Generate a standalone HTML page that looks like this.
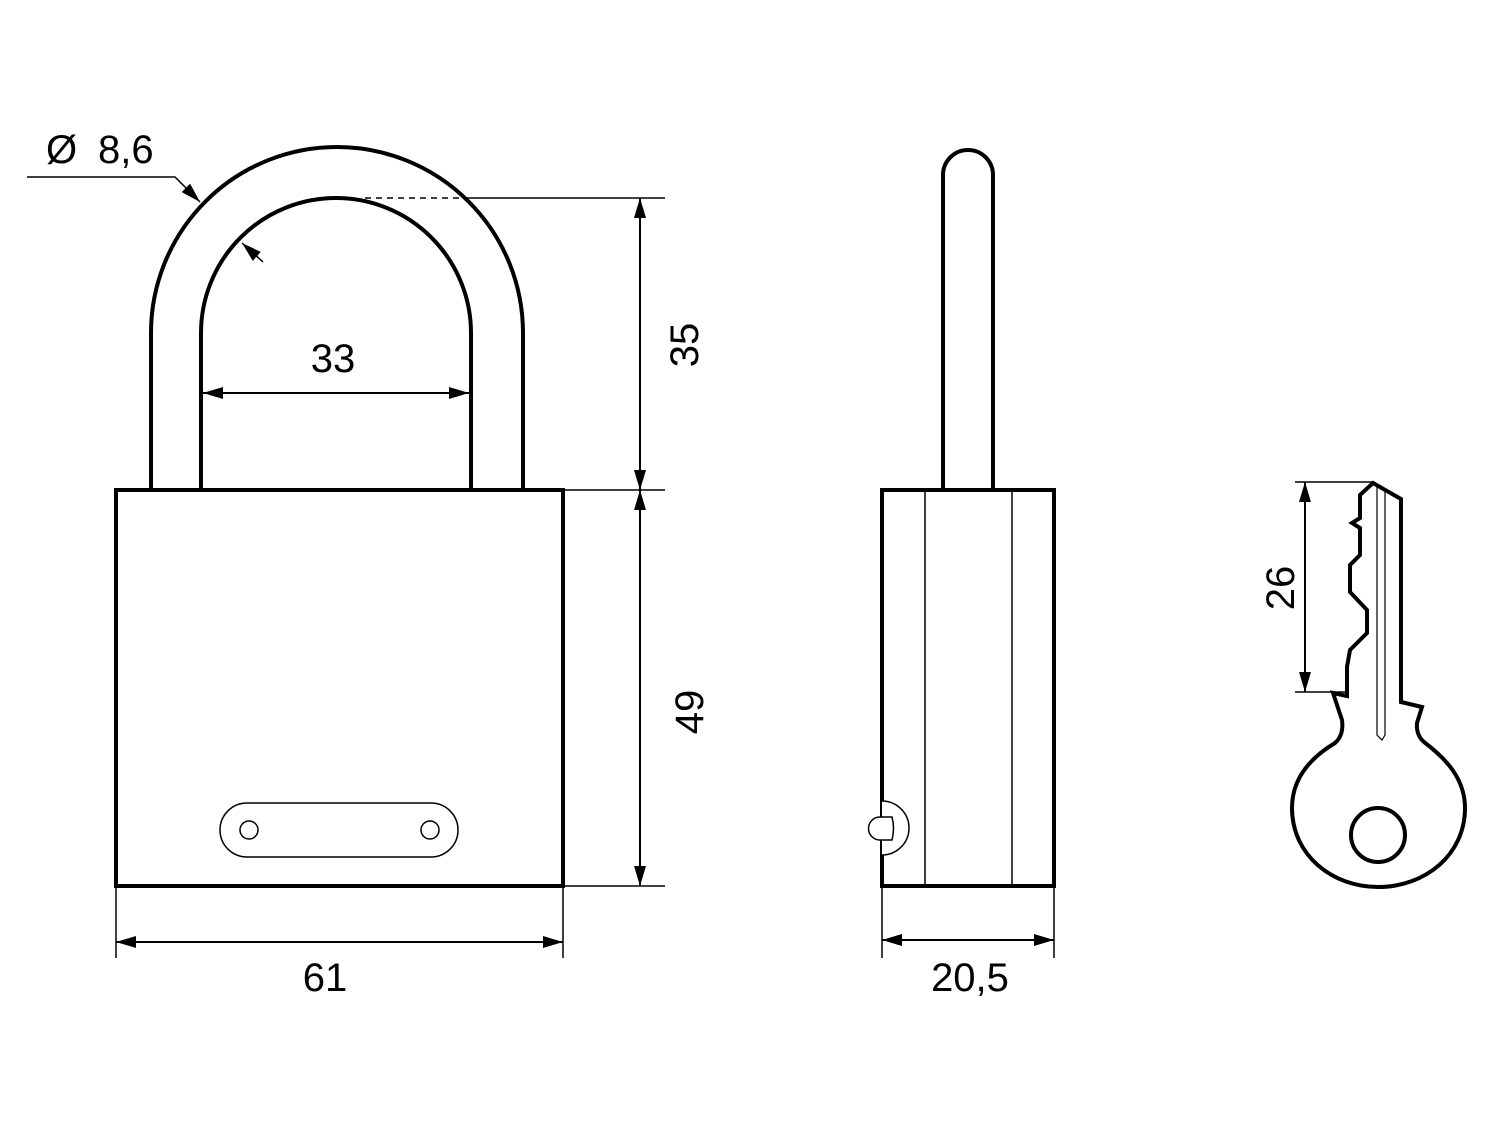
<!DOCTYPE html>
<html><head><style>html,body{margin:0;padding:0;background:#fff}svg{display:block}</style></head>
<body>
<svg width="1500" height="1125" viewBox="0 0 1500 1125" xmlns="http://www.w3.org/2000/svg" font-family="Liberation Sans, sans-serif">
<defs>
<marker id="a" viewBox="0 0 20 12" refX="20" refY="6" markerWidth="20" markerHeight="12" markerUnits="userSpaceOnUse" orient="auto-start-reverse"><path d="M0,0L20,6L0,12z" fill="#000"/></marker>
</defs>
<g fill="none" stroke="#000">
<path d="M151,490V333A186,186 0 0 1 523,333V490" stroke-width="4"/>
<path d="M201,490V333A135,135 0 0 1 471,333V490" stroke-width="4"/>
<rect x="116" y="490" width="447" height="396" stroke-width="4"/>
<rect x="220" y="803" width="238" height="54" rx="27" stroke-width="1.5"/>
<circle cx="249" cy="830" r="9" stroke-width="1.5"/>
<circle cx="430" cy="830" r="9" stroke-width="1.5"/>
<line x1="365" y1="198" x2="470" y2="198" stroke-width="1.5" stroke-dasharray="6,5"/>
<line x1="470" y1="198" x2="665" y2="198" stroke-width="1.5"/>
<line x1="563" y1="490" x2="665" y2="490" stroke-width="1.5"/>
<line x1="563" y1="886" x2="665" y2="886" stroke-width="1.5"/>
<line x1="640" y1="198" x2="640" y2="490" stroke-width="2" marker-start="url(#a)" marker-end="url(#a)"/>
<line x1="640" y1="490" x2="640" y2="886" stroke-width="2" marker-start="url(#a)" marker-end="url(#a)"/>
<line x1="203" y1="393" x2="469" y2="393" stroke-width="2" marker-start="url(#a)" marker-end="url(#a)"/>
<line x1="116" y1="886" x2="116" y2="958" stroke-width="1.5"/>
<line x1="563" y1="886" x2="563" y2="958" stroke-width="1.5"/>
<line x1="116" y1="942" x2="563" y2="942" stroke-width="2" marker-start="url(#a)" marker-end="url(#a)"/>
<path d="M27,177H175L200,202" stroke-width="1.5" marker-end="url(#a)"/>
<line x1="263" y1="262" x2="242" y2="243" stroke-width="1.5" marker-end="url(#a)"/>
<path d="M943,490V175A25,25 0 0 1 993,175V490" stroke-width="4"/>
<rect x="882" y="490" width="172" height="396" stroke-width="4"/>
<line x1="925" y1="490" x2="925" y2="886" stroke-width="1.5"/>
<line x1="1012" y1="490" x2="1012" y2="886" stroke-width="1.5"/>
<path d="M882,801A27,27 0 0 1 882,855" stroke-width="1.5" fill="#fff"/>
<path d="M892,817H880A11,11 0 0 0 880,840H892Q895,828 892,817z" stroke-width="1.5" fill="#fff"/>
<line x1="882" y1="886" x2="882" y2="958" stroke-width="1.5"/>
<line x1="1054" y1="886" x2="1054" y2="958" stroke-width="1.5"/>
<line x1="882" y1="940" x2="1054" y2="940" stroke-width="2" marker-start="url(#a)" marker-end="url(#a)"/>
<path d="M1373,483L1401,499V702L1422,707L1417,723Q1416,735 1424,742C1445,758 1465,778 1465,808C1465,855 1425,887 1378,887C1332,887 1292,855 1292,808C1292,775 1315,755 1335,743Q1344,735 1342,720L1333,693L1347,696V667L1350,650L1367,633V610L1350,592V565L1360,555V528L1352,523L1360,518V495Z" stroke-width="4" stroke-linejoin="miter"/>
<circle cx="1378" cy="835" r="27" stroke-width="4"/>
<path d="M1377,486V735L1382,740L1385,735V490" stroke-width="1.2"/>
<line x1="1295" y1="482" x2="1373" y2="482" stroke-width="1.5"/>
<line x1="1295" y1="692" x2="1345" y2="692" stroke-width="1.5"/>
<line x1="1305" y1="482" x2="1305" y2="692" stroke-width="2" marker-start="url(#a)" marker-end="url(#a)"/>
</g>
<g font-size="40" fill="#000">
<text x="46" y="163">Ø</text>
<text x="98" y="163">8,6</text>
<text x="333" y="372" text-anchor="middle">33</text>
<text x="325" y="991" text-anchor="middle">61</text>
<text x="970" y="991" text-anchor="middle">20,5</text>
<text transform="translate(698,345) rotate(-90)" text-anchor="middle">35</text>
<text transform="translate(703,712) rotate(-90)" text-anchor="middle">49</text>
<text transform="translate(1294,588) rotate(-90)" text-anchor="middle">26</text>
</g>
</svg>
</body></html>
